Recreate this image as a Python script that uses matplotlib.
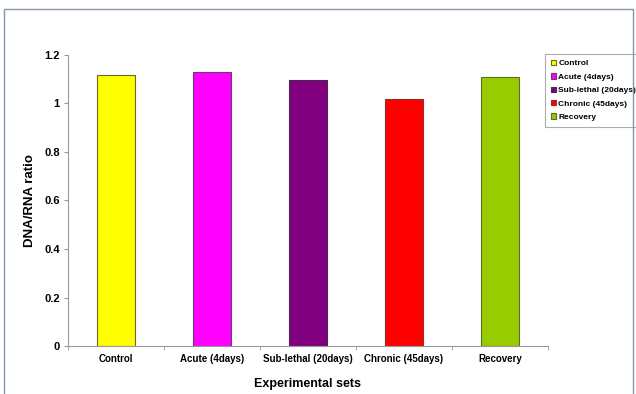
import numpy as np
import matplotlib.pyplot as plt
from matplotlib.patches import Rectangle

plt.rcParams['font.family'] = ['Liberation Sans', 'DejaVu Sans']
plt.rcParams['font.weight'] = 'bold'

# Datos
categorias = ["Control", "Acute (4days)", "Sub-lethal (20days)", "Chronic (45days)", "Recovery"]
valores = [1.117, 1.128, 1.097, 1.018, 1.108]
colores = ["#ffff00", "#ff00ff", "#800080", "#ff0000", "#99cc00"]
bordes = ["#6b6b20", "#6b3b6b", "#4a2a4a", "#8b3030", "#5b7020"]

fig = plt.figure(figsize=(6.36, 3.94), dpi=100)

# Marco del recuadro (recortado por abajo)
fig.patches.append(Rectangle((4/636, -0.1), (629/636), (394-9)/394 + 0.1, transform=fig.transFigure,
                             fill=False, edgecolor="#8496aa", linewidth=1.0))

ax = fig.add_axes([68/636, 48/394, 480/636, 291/394])
x = np.arange(len(categorias))
for i in range(len(categorias)):
    ax.bar(x[i], valores[i], width=0.4, color=colores[i], edgecolor=bordes[i], linewidth=0.8, label=categorias[i])

ax.set_xlim(-0.5, len(categorias) - 0.5)
ax.set_ylim(0, 1.2)
ax.set_yticks([0, 0.2, 0.4, 0.6, 0.8, 1, 1.2])
ax.set_yticklabels(["0", "0.2", "0.4", "0.6", "0.8", "1", "1.2"], fontsize=8)
ax.set_xticks(x)
ax.set_xticklabels(categorias, fontsize=7)
ax.tick_params(axis='x', length=0, pad=6)
ax.set_xticks(np.arange(-0.5, len(categorias)), minor=True)
ax.tick_params(axis='x', which='minor', length=3, color="#999999")
ax.tick_params(axis='y', length=3, color="#999999", pad=3)
for s in ["top", "right"]:
    ax.spines[s].set_visible(False)
ax.spines["left"].set_color("#999999")
ax.spines["bottom"].set_color("#999999")

ax.set_ylabel("DNA/RNA ratio", fontsize=9.5, fontweight='bold', labelpad=6)
ax.set_xlabel("Experimental sets", fontsize=9, fontweight='bold', labelpad=10)

leg = ax.legend(loc="upper left", bbox_to_anchor=(545/636, (394-54)/394), bbox_transform=fig.transFigure,
                fontsize=6, frameon=True, fancybox=False, handlelength=0.6, handleheight=0.6,
                handletextpad=0.3, labelspacing=0.7, borderpad=0.7, borderaxespad=0)
leg.get_frame().set_edgecolor("#999999")
leg.get_frame().set_linewidth(0.8)

plt.savefig("out.png", dpi=100)
